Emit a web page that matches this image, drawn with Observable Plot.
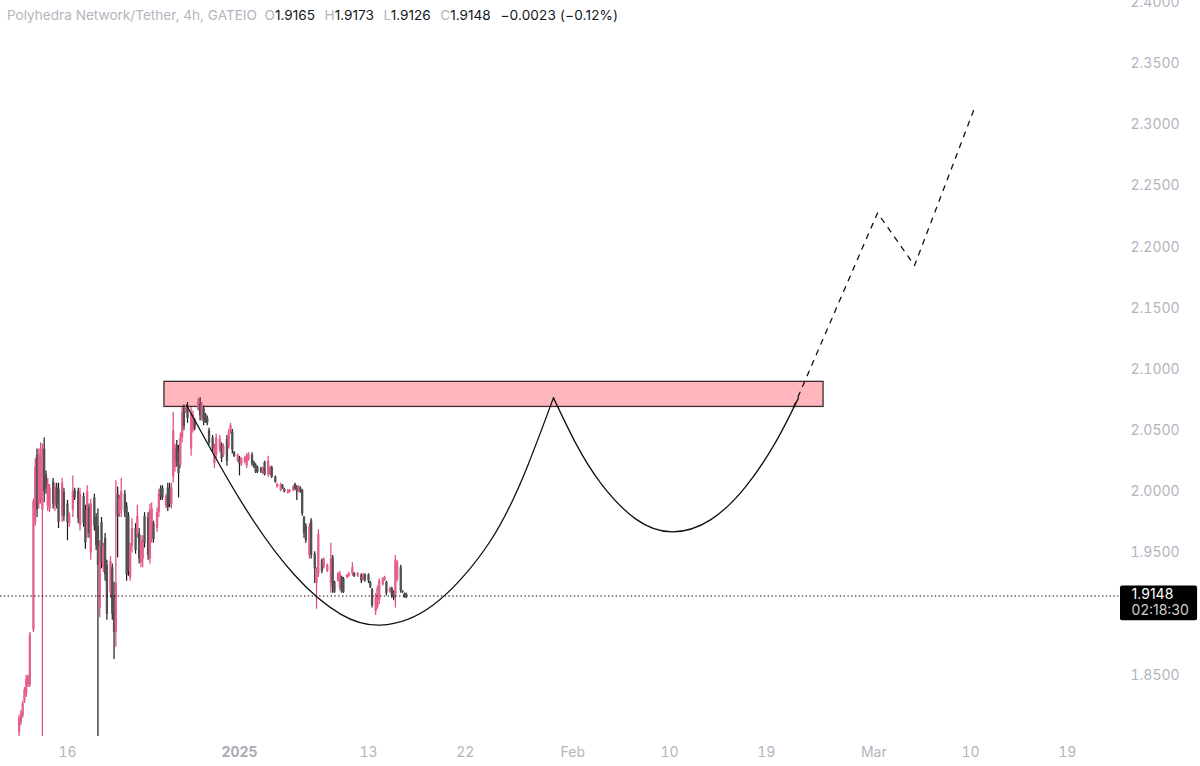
<!DOCTYPE html>
<html>
<head>
<meta charset="utf-8">
<script src="https://cdn.jsdelivr.net/npm/d3@7"></script>
<script src="https://cdn.jsdelivr.net/npm/@observablehq/plot@0.6"></script>
<style>
html,body{margin:0;padding:0;background:#fff;}
#wrap{position:relative;width:1200px;height:766px;overflow:hidden;}
#head{position:absolute;left:7px;top:7px;font:13.6px/17px Inter,sans-serif;color:#b2b5be;white-space:pre;}
#head b{font-weight:400;color:#131722;}
#head .g{margin-right:2px;}
#head .c{letter-spacing:.14px;}
svg{display:block;}
</style>
</head>
<body>
<div id="wrap"><div id="head"></div></div>
<script>
const headName = "Polyhedra Network/Tether, 4h, GATEIO";
const headValues = [["O","1.9165"],["H","1.9173"],["L","1.9126"],["C","1.9148"]];
const headChange = "−0.0023 (−0.12%)";

// 4h candle numbers counted from 11 Dec 2024 12:00 UTC
const candleIndex = [0,1,2,3,4,5,6,8,9,10,11,12,13,14,15,16,17,19,20,21,22,24,25,27,28,30,31,33,34,36,37,38,39,40,42,43,44,45,46,47,48,49,51,52,53,54,55,56,57,59,60,61,62,63,65,66,67,68,69,70,72,73,74,75,77,78,79,80,82,83,84,85,86,87,88,89,90,91,92,93,94,96,97,98,100,101,102,103,104,105,106,108,109,110,112,113,114,116,117,118,119,120,122,123,124,126,127,128,130,131,132,133,135,136,137,139,140,141,143,144,146,147,148,150,151,153,154,155,156,157,158,159,160,162,163,165,166,167,169,170,172,174,175,176,178,179,180,181,183,184,186,187,189,191,192,193,195,196,197,199,200,201,203,204,205,207,208,209,210,211,213,214,215,216];
const highs = [1.817,1.821,1.829,1.840,1.850,1.850,1.885,1.994,2.027,2.035,2.035,2.040,2.039,2.044,2.017,2.011,2.006,2.011,2.007,2.007,2.007,2.011,2.003,1.993,1.983,2.013,2.003,2.003,2.003,1.999,1.989,2.005,1.990,1.994,1.998,1.982,1.986,1.960,1.979,1.958,1.966,1.944,1.947,1.941,1.926,2.009,2.004,1.997,2.011,2.001,1.991,1.983,1.958,1.978,1.974,1.989,1.970,1.964,1.964,1.983,1.983,1.990,1.991,1.976,1.987,2.002,2.005,2.005,1.998,2.007,2.007,2.007,2.065,2.039,2.042,2.038,2.048,2.069,2.071,2.070,2.073,2.069,2.066,2.060,2.076,2.077,2.073,2.070,2.064,2.062,2.052,2.046,2.039,2.047,2.046,2.040,2.039,2.046,2.051,2.056,2.051,2.033,2.031,2.029,2.028,2.029,2.031,2.032,2.032,2.025,2.023,2.021,2.020,2.020,2.025,2.029,2.021,2.021,2.013,2.007,2.007,2.006,2.003,2.002,2.002,2.005,2.007,2.005,2.005,2.004,2.002,1.980,1.974,1.974,1.978,1.951,1.938,1.969,1.945,1.946,1.941,1.958,1.948,1.927,1.934,1.935,1.931,1.930,1.932,1.934,1.942,1.934,1.934,1.933,1.933,1.933,1.933,1.927,1.921,1.917,1.923,1.929,1.930,1.931,1.927,1.922,1.922,1.919,1.948,1.944,1.940,1.919,1.917,1.9173];
const lows = [1.790,1.809,1.815,1.827,1.832,1.840,1.840,1.885,1.972,1.979,1.986,1.990,1.790,1.991,1.998,1.984,1.983,1.986,1.984,1.986,1.970,1.975,1.976,1.960,1.971,1.979,1.993,1.974,1.968,1.971,1.953,1.962,1.962,1.944,1.968,1.952,1.790,1.897,1.937,1.934,1.927,1.895,1.913,1.895,1.863,1.873,1.946,1.979,1.979,1.979,1.927,1.931,1.927,1.950,1.949,1.962,1.941,1.938,1.938,1.954,1.944,1.941,1.958,1.958,1.967,1.979,1.993,1.993,1.986,1.984,1.987,1.986,2.007,2.016,2.020,1.995,2.019,2.040,2.050,2.064,2.056,2.029,2.048,2.050,2.066,2.058,2.058,2.054,2.056,2.054,2.038,2.033,2.019,2.027,2.032,2.024,2.028,2.021,2.035,2.047,2.031,2.028,2.024,2.013,2.021,2.023,2.019,2.025,2.021,2.019,2.015,2.015,2.015,2.014,2.013,2.012,2.013,2.011,2.007,2.003,2.000,2.002,1.999,1.998,1.999,2.000,2.001,1.993,1.999,1.999,1.980,1.962,1.958,1.945,1.945,1.925,1.904,1.930,1.933,1.937,1.934,1.917,1.917,1.917,1.926,1.919,1.917,1.917,1.929,1.930,1.931,1.930,1.930,1.925,1.927,1.926,1.925,1.921,1.905,1.899,1.904,1.908,1.923,1.927,1.915,1.917,1.913,1.911,1.905,1.926,1.917,1.917,1.913,1.9126];
const opens = [1.803,1.811,1.817,1.829,1.835,1.842,1.842,1.887,1.975,2.030,1.990,1.995,1.985,2.035,2.014,1.988,1.986,2.008,1.988,2.003,2.002,1.980,2.000,1.990,1.974,1.985,2.001,2.000,1.972,1.996,1.985,1.970,1.987,1.950,1.995,1.979,1.972,1.905,1.975,1.938,1.962,1.940,1.918,1.938,1.915,1.885,1.998,1.982,1.985,1.998,1.988,1.980,1.930,1.955,1.970,1.965,1.966,1.942,1.945,1.980,1.979,1.945,1.962,1.974,1.970,1.983,2.003,2.003,1.988,2.003,2.003,1.990,2.012,2.020,2.038,2.034,2.022,2.044,2.068,2.065,2.070,2.035,2.050,2.058,2.067,2.072,2.060,2.068,2.063,2.060,2.050,2.044,2.023,2.030,2.034,2.038,2.030,2.043,2.037,2.048,2.049,2.032,2.025,2.027,2.022,2.024,2.021,2.026,2.030,2.024,2.022,2.020,2.019,2.015,2.024,2.014,2.014,2.020,2.012,2.004,2.001,2.005,2.002,1.999,2.000,2.001,2.006,2.004,2.000,2.003,2.001,1.979,1.972,1.948,1.976,1.949,1.925,1.933,1.944,1.938,1.935,1.925,1.946,1.926,1.927,1.921,1.930,1.929,1.930,1.931,1.933,1.933,1.931,1.932,1.928,1.932,1.932,1.926,1.920,1.902,1.906,1.911,1.924,1.928,1.926,1.918,1.921,1.918,1.915,1.928,1.938,1.919,1.916,1.9165];
const closes = [1.815,1.819,1.827,1.838,1.847,1.849,1.883,1.992,2.020,1.985,2.030,2.035,2.030,2.000,2.002,2.006,2.003,1.990,2.004,1.990,1.975,2.007,1.980,1.975,1.981,2.000,1.995,1.978,1.998,1.974,1.958,2.000,1.966,1.990,1.972,1.956,1.940,1.955,1.942,1.955,1.932,1.900,1.943,1.900,1.885,1.925,1.980,1.994,2.000,1.983,1.932,1.935,1.955,1.970,1.952,1.980,1.945,1.960,1.960,1.958,1.948,1.985,1.986,1.961,1.983,1.998,1.996,1.995,1.996,1.987,1.990,2.003,2.050,2.035,2.024,2.015,2.044,2.065,2.053,2.069,2.060,2.064,2.063,2.052,2.074,2.062,2.071,2.057,2.057,2.056,2.040,2.035,2.035,2.044,2.043,2.027,2.037,2.025,2.048,2.054,2.034,2.029,2.030,2.023,2.027,2.028,2.029,2.031,2.023,2.020,2.016,2.016,2.016,2.019,2.014,2.025,2.020,2.012,2.008,2.006,2.006,2.003,2.000,2.001,2.001,2.004,2.002,2.000,2.004,2.000,1.982,1.966,1.960,1.971,1.948,1.937,1.935,1.965,1.935,1.945,1.940,1.945,1.922,1.918,1.933,1.933,1.918,1.918,1.932,1.933,1.938,1.931,1.933,1.927,1.932,1.928,1.927,1.922,1.907,1.914,1.921,1.927,1.929,1.930,1.917,1.921,1.915,1.913,1.944,1.942,1.919,1.918,1.914,1.9148];

// drawn shapes, in days from 1 Jan 2025 and price
const arcOneDays = [-4.93,0.09,5.02,9.40,13.12,17.95,23.35,26.79,29.21];
const arcOnePrices = [2.071,1.993,1.933,1.900,1.891,1.907,1.960,2.021,2.077];
const arcTwoDays = [29.21,31.26,33.58,36.84,40.28,43.81,47.07,49.86,52.0];
const arcTwoPrices = [2.0768,2.0400,2.0074,1.9779,1.9673,1.9771,2.0041,2.0404,2.0768];
const dashDays = [51.53,59.35,62.79,68.47];
const dashPrices = [2.069,2.228,2.185,2.316];
const zoneDays = [-6.98,54.33];
const zonePrices = [2.0694,2.0899];
const lastPrice = 1.9148;
const lastLabel = ["1.9148","02:18:30"];
const badgeDays = [81.95,89.12];
const badgePrices = [1.8946,1.923];

const priceTicks = [1.85,1.95,2.0,2.05,2.1,2.15,2.2,2.25,2.3,2.35,2.4];
const plainDates = [[2024,11,16,"16"],[2025,0,13,"13"],[2025,0,22,"22"],[2025,1,1,"Feb"],[2025,1,10,"10"],[2025,1,19,"19"],[2025,2,1,"Mar"],[2025,2,10,"10"],[2025,2,19,"19"]];
const yearDates = [[2025,0,1,"2025"]];

const day = d => new Date(Date.UTC(2025,0,1) + d*864e5);
const tickDate = r => new Date(Date.UTC(r[0],r[1],r[2]));
const t0 = Date.UTC(2024,11,11,12);
const candles = candleIndex.map((n,i)=>({
  t:new Date(t0+n*4*36e5), h:highs[i], l:lows[i], o:opens[i], c:closes[i], up:closes[i]>=opens[i]
}));
const arcOne = arcOneDays.map((d,i)=>({t:day(d),p:arcOnePrices[i]}));
const arcTwo = arcTwoDays.map((d,i)=>({t:day(d),p:arcTwoPrices[i]}));
const dash = dashDays.map((d,i)=>({t:day(d),p:dashPrices[i]}));

const tickFor = list => ({ticks:list.map(tickDate), tickFormat:d=>{
  const r=list.find(r=>+tickDate(r)===+d); return r?r[3]:"";}});

const chart = Plot.plot({
  width:1200,height:766,
  marginTop:2,marginBottom:30,marginLeft:0,marginRight:70,
  style:{background:"#fff",fontFamily:"Inter, sans-serif"},
  x:{type:"utc",domain:[day(-22.23),day(82.88)]},
  y:{domain:[1.8,2.4]},
  marks:[
    Plot.rect([0],{x1:()=>day(zoneDays[0]),x2:()=>day(zoneDays[1]),y1:()=>zonePrices[0],y2:()=>zonePrices[1],fill:"#ffb7bd",stroke:"#3d2b2d",strokeWidth:1.3}),
    Plot.ruleX(candles,{x:"t",y1:"l",y2:"h",stroke:d=>d.up?"#e2457f":"#1c1c1c",strokeWidth:1.2,clip:true}),
    Plot.ruleX(candles,{x:"t",y1:"o",y2:"c",stroke:d=>d.up?"#e4608f":"#505050",strokeWidth:2.3,clip:true}),
    Plot.ruleY([lastPrice],{x1:()=>day(-22.23),x2:()=>day(81.8),stroke:"#000",strokeWidth:1.1,strokeDasharray:"1.4,2.4"}),
    Plot.line(arcOne,{x:"t",y:"p",curve:"natural",stroke:"#111",strokeWidth:1.3}),
    Plot.line(arcTwo,{x:"t",y:"p",curve:"natural",stroke:"#111",strokeWidth:1.3}),
    Plot.line(dash,{x:"t",y:"p",stroke:"#111",strokeWidth:1.3,strokeDasharray:"5,6.5"}),
    Plot.axisY({anchor:"right",ticks:priceTicks,tickFormat:d=>d.toFixed(4),tickSize:0,tickPadding:0,label:null,fontSize:14,fill:"#b2b5be"}),
    Plot.axisX({...tickFor(plainDates),anchor:"bottom",tickSize:0,tickPadding:11,label:null,fontSize:14,fill:"#b2b5be"}),
    Plot.axisX({...tickFor(yearDates),anchor:"bottom",tickSize:0,tickPadding:11,label:null,fontSize:14,fontWeight:700,fill:"#a9acb5"}),
    Plot.rect([0],{x1:()=>day(badgeDays[0]),x2:()=>day(badgeDays[1]),y1:()=>badgePrices[0],y2:()=>badgePrices[1],fill:"#000",r:2}),
    Plot.text([0],{x:()=>day(82.98),y:()=>1.9158,text:()=>lastLabel[0],fill:"#fff",fontSize:14,textAnchor:"start"}),
    Plot.text([0],{x:()=>day(82.98),y:()=>1.9028,text:()=>lastLabel[1],fill:"#cfcfcf",fontSize:14,textAnchor:"start"})
  ]
});
document.getElementById("wrap").appendChild(chart);
document.getElementById("head").innerHTML = headName+"  "+
  headValues.map(v=>`<span class="g">${v[0]}<b>${v[1]}</b></span>`).join("  ")+`  <b class="c">${headChange}</b>`;
</script>
</body>
</html>
